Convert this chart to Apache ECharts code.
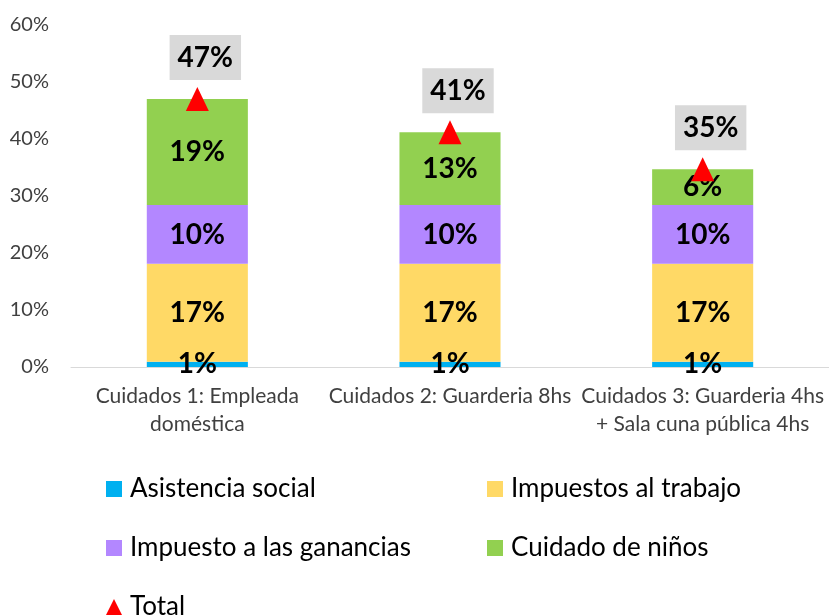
<!DOCTYPE html>
<html>
<head>
<meta charset="utf-8">
<script src="https://cdn.jsdelivr.net/npm/echarts@6/dist/echarts.min.js"></script>
<style>
 body { margin: 0; background: #fff; }
 #chart { width: 829px; height: 616px; }
</style>
</head>
<body>
<div id="chart"></div>
<script>
// categories
const categories = ['Cuidados 1: Empleada\ndoméstica', 'Cuidados 2: Guarderia 8hs', 'Cuidados 3: Guarderia 4hs\n+ Sala cuna pública 4hs'];
// stacked values (%)
const asistencia = [0.9, 0.9, 0.9];
const impTrabajo = [17.2, 17.2, 17.2];
const impGanancias = [10.3, 10.3, 10.3];
const cuidado = [18.6, 12.8, 6.3];
const total = [47.0, 41.2, 34.7];
const yTicks = [0, 10, 20, 30, 40, 50, 60];

const font = 'Lato';
var myChart = echarts.init(document.getElementById('chart'));

function segLabel() {
 return {
 show: true,
 position: 'inside',
 color: '#000',
 fontFamily: font,
 fontWeight: 'bold',
 fontSize: 28,
 formatter: function (p) { return Math.round(p.value) + '%'; }
 };
}

function bar(name, data, color) {
 return {
 name: name,
 type: 'bar',
 stack: 'a',
 barWidth: '40%',
 data: data,
 itemStyle: { color: color },
 label: segLabel()
 };
}

function legendAt(name, left, top, icon) {
 return {
 data: [name],
 left: left,
 top: top,
 padding: 0,
 icon: icon,
 itemWidth: 16,
 itemHeight: 16,
 itemGap: 0,
 textStyle: { fontFamily: font, fontSize: 26, lineHeight: 26, color: '#000', padding: [0, 0, 0, 3] }
 };
}

var option = {
 animation: false,
 grid: { left: 71, top: 25, width: 768, height: 342 },
 legend: [
 legendAt('Asistencia social', 106, 476, 'rect'),
 legendAt('Impuestos al trabajo', 487, 476, 'rect'),
 legendAt('Impuesto a las ganancias', 106, 535, 'rect'),
 legendAt('Cuidado de niños', 487, 535, 'rect'),
 legendAt('Total', 106, 594, 'triangle')
 ],
 xAxis: {
 type: 'category',
 data: categories,
 axisLine: { lineStyle: { color: '#d9d9d9' } },
 axisTick: { show: false },
 axisLabel: {
 interval: 0,
 color: '#404040',
 fontFamily: font,
 fontSize: 21,
 lineHeight: 28,
 margin: 15
 }
 },
 yAxis: {
 type: 'value',
 min: yTicks[0],
 max: yTicks[yTicks.length - 1],
 interval: 10,
 splitLine: { show: false },
 axisLine: { show: false },
 axisTick: { show: false },
 axisLabel: {
 formatter: '{value}%',
 color: '#404040',
 fontFamily: font,
 fontSize: 20,
 margin: 22
 }
 },
 series: [
 bar('Asistencia social', asistencia, '#00b0f0'),
 bar('Impuestos al trabajo', impTrabajo, '#ffd966'),
 bar('Impuesto a las ganancias', impGanancias, '#b387ff'),
 bar('Cuidado de niños', cuidado, '#92d050'),
 {
 name: 'Total',
 type: 'scatter',
 data: total,
 symbol: 'triangle',
 symbolSize: [23, 24],
 itemStyle: { color: '#ff0000', opacity: 1 },
 z: 5,
 label: {
 show: true,
 position: 'top',
 distance: 7,
 offset: [8, 0],
 opacity: 1,
 backgroundColor: '#d9d9d9',
 padding: [9, 8, 8, 8],
 color: '#000',
 fontFamily: font,
 fontWeight: 'bold',
 fontSize: 28,
 formatter: function (p) { return Math.round(p.value) + '%'; }
 }
 }
 ]
};
myChart.setOption(option);
</script>
</body>
</html>
